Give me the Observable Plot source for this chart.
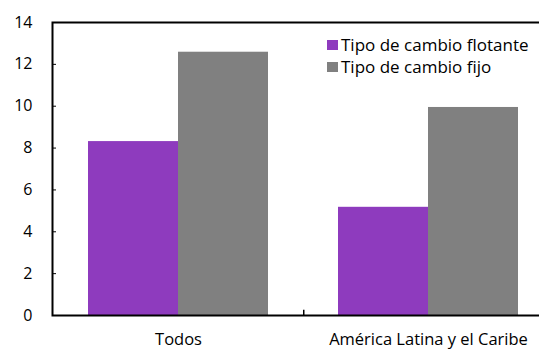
<!DOCTYPE html>
<html>
<head>
<meta charset="utf-8">
<script src="https://cdn.jsdelivr.net/npm/d3@7"></script>
<script src="https://cdn.jsdelivr.net/npm/@observablehq/plot@0.6"></script>
<style>
  html, body { margin: 0; padding: 0; background: #fff; }
  .legend { position: absolute; left: 327px; top: 34px; font-family: "Open Sans", sans-serif; font-size: 17px; color: #000; }
  .legend .row { display: flex; align-items: center; height: 22px; line-height: 22px; white-space: nowrap; }
  .legend .sw { width: 11px; height: 10px; margin-right: 3px; flex: none; }
</style>
</head>
<body>
<script>
// Regions compared
const categories = ["Todos", "América Latina y el Caribe"];
// Series labels and their colours
const series = ["Tipo de cambio flotante", "Tipo de cambio fijo"];
const seriesColors = ["#8e3bbe", "#808080"];
// Values per region
const flotante = [8.31, 5.17];
const fijo = [12.58, 9.94];
// Y axis ticks
const yTicks = [0, 2, 4, 6, 8, 10, 12, 14];

const rows = categories.flatMap((c, i) => [
  {group: c, series: series[0], value: flotante[i]},
  {group: c, series: series[1], value: fijo[i]}
]);

const chart = Plot.plot({
  width: 539,
  height: 351,
  marginLeft: 52,
  marginRight: -14,
  marginTop: 22,
  marginBottom: 36,
  style: {fontFamily: "'Open Sans', sans-serif", fontSize: "16px"},
  x: {domain: categories, paddingInner: 0.282, paddingOuter: 0.141, axis: null},
  y: {domain: [0, 14], axis: null},
  color: {domain: series, range: seriesColors},
  marks: [
    // paired bars share each category band: left half floating, right half fixed
    Plot.barY(rows.filter(d => d.series === series[0]), {x: "group", y: "value", fill: "series", insetRight: 90}),
    Plot.barY(rows.filter(d => d.series === series[1]), {x: "group", y: "value", fill: "series", insetLeft: 90}),
    Plot.axisY(yTicks, {anchor: "left", tickSize: 0, tickPadding: 20, fontSize: 16, fill: "#000", label: null}),
    Plot.axisX({anchor: "bottom", tickSize: 0, tickPadding: 18, fontSize: 16.5, fill: "#000", label: null}),
    // boundary tick between the two categories
    Plot.ruleX([categories[0]], {x: d => d, dx: 125.25, y1: 0, y2: 0.25, stroke: "#000", strokeWidth: 1.5}),
    // inward y ticks and the plot-area border (right edge falls outside the canvas)
    Plot.axisY(yTicks.slice(1), {anchor: "left", tickSize: -4, text: null, label: null, stroke: "#000"}),
    Plot.frame({stroke: "#000", strokeWidth: 2})
  ]
});

document.body.appendChild(chart);

const legend = document.createElement("div");
legend.className = "legend";
series.forEach((s, i) => {
  const row = document.createElement("div");
  row.className = "row";
  const sw = document.createElement("span");
  sw.className = "sw";
  sw.style.background = seriesColors[i];
  const t = document.createElement("span");
  t.textContent = s;
  row.appendChild(sw);
  row.appendChild(t);
  legend.appendChild(row);
});
document.body.appendChild(legend);
</script>
</body>
</html>
